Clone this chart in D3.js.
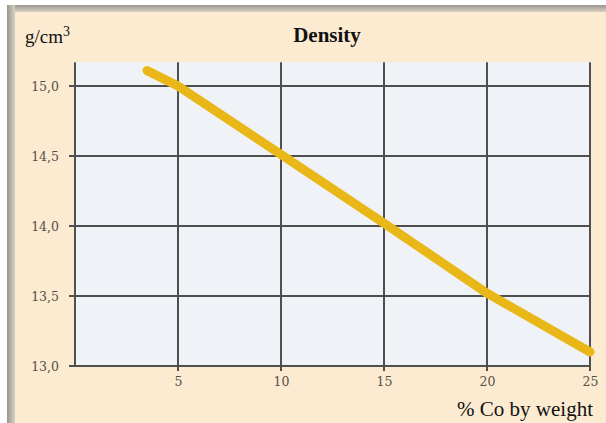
<!DOCTYPE html>
<html><head><meta charset="utf-8">
<script src="https://cdn.jsdelivr.net/npm/d3@7"></script>
<style>html,body{margin:0;padding:0;background:#fff;}</style>
</head><body>
<script>
const coPercent = [3.5, 5, 10, 15, 20, 25];
const density = [15.11, 15.0, 14.51, 14.02, 13.52, 13.1];
const xTicks = [5, 10, 15, 20, 25];
const yTicks = [13.0, 13.5, 14.0, 14.5, 15.0];
const yTickLabels = ["13,0", "13,5", "14,0", "14,5", "15,0"];

const W = 606, H = 423;
const svg = d3.select("body").append("svg").attr("width", W).attr("height", H);

const defs = svg.append("defs");
const gTop = defs.append("linearGradient").attr("id","gt").attr("x1",0).attr("y1",0).attr("x2",0).attr("y2",1);
gTop.append("stop").attr("offset",0).attr("stop-color","#9a9590");
gTop.append("stop").attr("offset",1).attr("stop-color","#d8d0c4");
const gLeft = defs.append("linearGradient").attr("id","gl").attr("x1",0).attr("y1",0).attr("x2",1).attr("y2",0);
gLeft.append("stop").attr("offset",0).attr("stop-color","#9a9590");
gLeft.append("stop").attr("offset",1).attr("stop-color","#d8d0c4");

svg.append("rect").attr("x",7).attr("y",5).attr("width",W-7).attr("height",H-5).attr("fill","#fdebd1");
svg.append("rect").attr("x",7).attr("y",5).attr("width",W-7).attr("height",7).attr("fill","url(#gt)");
svg.append("rect").attr("x",7).attr("y",5).attr("width",8).attr("height",H-5).attr("fill","url(#gl)");

const x = d3.scaleLinear().domain([0, 25]).range([75, 590]);
const y = d3.scaleLinear().domain([13.0, 15.0]).range([366, 86]);
const yTop = 15.17;

svg.append("rect").attr("x", x(0)).attr("y", y(yTop))
  .attr("width", x(25)-x(0)).attr("height", y(13)-y(yTop)).attr("fill","#eff2f6");

const grid = "#4f4f4f";
svg.append("g").selectAll("line").data([0].concat(xTicks)).join("line")
  .attr("x1", d=>x(d)).attr("x2", d=>x(d))
  .attr("y1", y(yTop)).attr("y2", d => d===0 ? y(13) : y(13)+5)
  .attr("stroke", grid).attr("stroke-width", 2);
svg.append("g").selectAll("line").data(yTicks).join("line")
  .attr("x1", x(0)-6).attr("x2", x(25))
  .attr("y1", d=>y(d)).attr("y2", d=>y(d))
  .attr("stroke", grid).attr("stroke-width", 2);

const tickFont = "'DejaVu Serif', 'Liberation Serif', serif";
const yAxis = svg.append("g").attr("transform", `translate(${x(0)-15},0)`)
  .call(d3.axisLeft(y).tickValues(yTicks).tickFormat((d,i)=>yTickLabels[i]).tickSize(0).tickPadding(1));
yAxis.select(".domain").remove();
yAxis.selectAll("text").attr("font-family",tickFont).attr("font-size",12.5).attr("fill","#555049");

const xAxis = svg.append("g").attr("transform", `translate(0,${y(13)+9})`)
  .call(d3.axisBottom(x).tickValues(xTicks).tickFormat(d3.format("d")).tickSize(0).tickPadding(2));
xAxis.select(".domain").remove();
xAxis.selectAll("text").attr("font-family",tickFont).attr("font-size",12.5).attr("fill","#555049");

const line = d3.line().x((d,i)=>x(coPercent[i])).y(d=>y(d));
svg.append("path").datum(density).attr("d", line)
  .attr("fill","none").attr("stroke","#e9b818").attr("stroke-width",9)
  .attr("stroke-linecap","round").attr("stroke-linejoin","round");

const serif = "'Liberation Serif', 'Times New Roman', serif";
svg.append("text").attr("x", 327).attr("y", 42).attr("text-anchor","middle")
  .attr("font-family", serif).attr("font-weight","bold").attr("font-size",21).attr("fill","#111").text("Density");
const unit = svg.append("text").attr("x", 25).attr("y", 43)
  .attr("font-family", serif).attr("font-size",19).attr("fill","#111");
unit.append("tspan").text("g/cm");
unit.append("tspan").attr("dy",-7).attr("font-size",14).text("3");
svg.append("text").attr("x", 593).attr("y", 416).attr("text-anchor","end")
  .attr("font-family", serif).attr("font-size",21).attr("fill","#111").text("% Co by weight");
</script>
</body></html>
